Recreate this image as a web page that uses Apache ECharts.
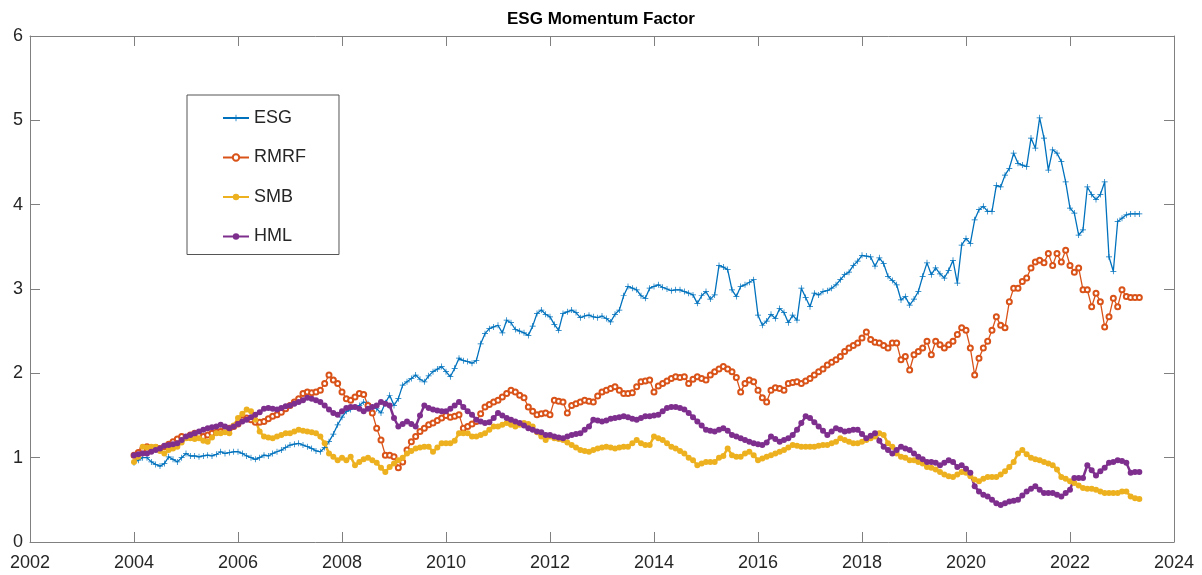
<!DOCTYPE html>
<html lang="en">
<head>
  <meta charset="UTF-8">
  <title>ESG Momentum Factor</title>
  <script src="https://cdn.jsdelivr.net/npm/echarts@6/dist/echarts.min.js"></script>
  <style>html, body { margin: 0; background: #fff; }</style>
</head>
<body>
  <div id="main" style="width: 1202px; height: 575px"></div>
  <script>
    // monthly observations, Jan 2004 .. May 2023
    const startYear = 2004
    const esg = [
      0.94, 0.97, 1.00, 1.00, 0.95, 0.92, 0.90, 0.93, 1.01, 0.98, 0.95, 1.00,
      1.05, 1.02, 1.02, 1.01, 1.02, 1.03, 1.02, 1.04, 1.07, 1.05, 1.06, 1.07,
      1.07, 1.05, 1.02, 1.00, 0.98, 1.00, 1.03, 1.02, 1.05, 1.07, 1.09, 1.12,
      1.15, 1.16, 1.17, 1.15, 1.13, 1.11, 1.08, 1.07, 1.12, 1.19, 1.28, 1.39,
      1.48, 1.55, 1.57, 1.60, 1.62, 1.66, 1.64, 1.60, 1.58, 1.53, 1.65, 1.74,
      1.62, 1.70, 1.86, 1.90, 1.94, 1.98, 1.93, 1.90, 1.97, 2.02, 2.05, 2.08,
      2.02, 1.96, 2.06, 2.18, 2.15, 2.14, 2.12, 2.15, 2.35, 2.47, 2.53, 2.55,
      2.57, 2.48, 2.63, 2.60, 2.52, 2.50, 2.48, 2.45, 2.56, 2.71, 2.75, 2.70,
      2.67, 2.58, 2.51, 2.71, 2.73, 2.75, 2.72, 2.66, 2.68, 2.69, 2.67, 2.66,
      2.68, 2.65, 2.61, 2.70, 2.75, 2.92, 3.03, 3.01, 2.99, 2.92, 2.89, 3.01,
      3.03, 3.05, 3.02, 3.00, 2.98, 2.99, 2.99, 2.97, 2.95, 2.93, 2.83, 2.92,
      2.97, 2.88, 2.93, 3.28, 3.26, 3.23, 2.99, 2.91, 3.03, 3.05, 3.08, 3.11,
      2.69, 2.57, 2.62, 2.70, 2.65, 2.77, 2.72, 2.60, 2.69, 2.63, 3.01, 2.90,
      2.79, 2.95, 2.93, 2.97, 2.98, 3.01, 3.05, 3.11, 3.17, 3.20, 3.28, 3.33,
      3.40, 3.39, 3.38, 3.27, 3.37, 3.30, 3.15, 3.10, 3.05, 2.87, 2.91, 2.81,
      2.88, 2.97, 3.15, 3.31, 3.17, 3.25, 3.18, 3.13, 3.22, 3.34, 3.07, 3.52,
      3.60, 3.54, 3.82, 3.94, 3.98, 3.92, 3.92, 4.23, 4.21, 4.35, 4.43, 4.61,
      4.49, 4.47, 4.45, 4.79, 4.67, 5.03, 4.79, 4.41, 4.65, 4.61, 4.51, 4.27,
      3.96, 3.90, 3.64, 3.70, 4.21, 4.12, 4.06, 4.12, 4.27, 3.38, 3.21, 3.80,
      3.84, 3.88, 3.89, 3.89, 3.89
    ]
    const rmrf = [
      1.03, 1.06, 1.10, 1.13, 1.10, 1.12, 1.11, 1.13, 1.16, 1.19, 1.22, 1.25,
      1.24, 1.27, 1.29, 1.27, 1.25, 1.27, 1.29, 1.30, 1.31, 1.33, 1.35, 1.37,
      1.40, 1.45, 1.47, 1.45, 1.42, 1.42, 1.43, 1.46, 1.49, 1.51, 1.54, 1.58,
      1.62, 1.66, 1.70, 1.76, 1.78, 1.77, 1.78, 1.80, 1.88, 1.98, 1.92, 1.88,
      1.78, 1.70, 1.68, 1.72, 1.76, 1.75, 1.62, 1.53, 1.35, 1.21, 1.03, 1.03,
      1.01, 0.88, 0.95, 1.09, 1.19, 1.25, 1.31, 1.35, 1.39, 1.41, 1.44, 1.47,
      1.50, 1.48, 1.49, 1.51, 1.35, 1.37, 1.40, 1.43, 1.52, 1.60, 1.63, 1.66,
      1.68, 1.72, 1.76, 1.80, 1.78, 1.74, 1.71, 1.60, 1.55, 1.51, 1.52, 1.53,
      1.51, 1.68, 1.67, 1.66, 1.53, 1.62, 1.64, 1.66, 1.68, 1.67, 1.66, 1.73,
      1.78, 1.80, 1.82, 1.84, 1.80, 1.76, 1.76, 1.77, 1.84, 1.90, 1.91, 1.92,
      1.78, 1.85, 1.88, 1.91, 1.94, 1.96, 1.95, 1.96, 1.88, 1.93, 1.96, 1.94,
      1.92, 1.98, 2.02, 2.05, 2.08, 2.05, 2.02, 1.95, 1.78, 1.88, 1.92, 1.90,
      1.80, 1.71, 1.66, 1.80, 1.83, 1.82, 1.80, 1.88, 1.89, 1.90, 1.88, 1.91,
      1.94, 1.98, 2.02, 2.05, 2.10, 2.13, 2.16, 2.20, 2.26, 2.30, 2.33, 2.36,
      2.42, 2.49, 2.40, 2.37, 2.36, 2.33, 2.30, 2.36, 2.36, 2.16, 2.20, 2.04,
      2.22, 2.26, 2.30, 2.38, 2.22, 2.38, 2.34, 2.30, 2.34, 2.38, 2.46, 2.54,
      2.51, 2.30, 1.98, 2.18, 2.30, 2.38, 2.51, 2.67, 2.57, 2.54, 2.85, 3.01,
      3.01, 3.09, 3.13, 3.25, 3.32, 3.34, 3.31, 3.42, 3.28, 3.42, 3.32, 3.46,
      3.28, 3.20, 3.25, 2.99, 2.99, 2.79, 2.95, 2.85, 2.55, 2.67, 2.89, 2.79,
      2.99, 2.91, 2.90, 2.90, 2.90
    ]
    const smb = [
      0.95, 1.01, 1.13, 1.12, 1.13, 1.13, 1.08, 1.05, 1.09, 1.11, 1.13, 1.18,
      1.23, 1.23, 1.22, 1.23, 1.20, 1.19, 1.24, 1.29, 1.29, 1.30, 1.29, 1.38,
      1.47, 1.52, 1.57, 1.55, 1.45, 1.31, 1.25, 1.24, 1.23, 1.25, 1.27, 1.29,
      1.29, 1.31, 1.33, 1.32, 1.31, 1.30, 1.29, 1.25, 1.17, 1.05, 1.01, 0.97,
      1.00, 0.97, 1.01, 0.91, 0.95, 0.98, 1.00, 0.97, 0.94, 0.88, 0.83, 0.89,
      0.93, 0.97, 1.00, 1.05, 1.08, 1.11, 1.12, 1.13, 1.13, 1.07, 1.12, 1.17,
      1.17, 1.17, 1.20, 1.29, 1.29, 1.29, 1.25, 1.25, 1.27, 1.29, 1.33, 1.37,
      1.37, 1.39, 1.41, 1.39, 1.37, 1.39, 1.41, 1.40, 1.37, 1.30, 1.25, 1.21,
      1.25, 1.23, 1.22, 1.21, 1.18, 1.15, 1.12, 1.09, 1.08, 1.07, 1.09, 1.11,
      1.12, 1.13, 1.12, 1.11, 1.12, 1.13, 1.13, 1.17, 1.21, 1.17, 1.15, 1.15,
      1.25, 1.23, 1.21, 1.17, 1.13, 1.11, 1.08, 1.05, 1.00, 0.97, 0.91, 0.93,
      0.95, 0.95, 0.95, 1.00, 1.02, 1.11, 1.03, 1.01, 1.01, 1.05, 1.07, 1.03,
      0.97, 0.99, 1.01, 1.03, 1.05, 1.07, 1.09, 1.12, 1.15, 1.14, 1.13, 1.13,
      1.13, 1.13, 1.14, 1.15, 1.15, 1.17, 1.19, 1.23, 1.21, 1.19, 1.17, 1.17,
      1.19, 1.21, 1.23, 1.25, 1.29, 1.27, 1.17, 1.13, 1.05, 1.01, 1.00, 0.97,
      0.97, 0.95, 0.93, 0.89, 0.88, 0.86, 0.83, 0.80, 0.78, 0.77, 0.80, 0.83,
      0.82, 0.78, 0.74, 0.72, 0.75, 0.77, 0.77, 0.77, 0.80, 0.84, 0.89, 0.95,
      1.05, 1.09, 1.04, 1.00, 0.98, 0.97, 0.95, 0.93, 0.91, 0.86, 0.77, 0.75,
      0.72, 0.70, 0.67, 0.64, 0.63, 0.63, 0.62, 0.60, 0.58, 0.58, 0.58, 0.58,
      0.60, 0.60, 0.54, 0.52, 0.51
    ]
    const hml = [
      1.03, 1.04, 1.05, 1.05, 1.07, 1.09, 1.11, 1.14, 1.15, 1.16, 1.17, 1.21,
      1.25, 1.27, 1.29, 1.31, 1.33, 1.35, 1.36, 1.37, 1.39, 1.37, 1.35, 1.37,
      1.40, 1.43, 1.45, 1.48, 1.51, 1.54, 1.58, 1.59, 1.58, 1.57, 1.59, 1.61,
      1.62, 1.64, 1.66, 1.68, 1.71, 1.70, 1.68, 1.66, 1.62, 1.57, 1.53, 1.51,
      1.55, 1.59, 1.60, 1.60, 1.58, 1.55, 1.58, 1.60, 1.62, 1.66, 1.64, 1.62,
      1.47, 1.37, 1.40, 1.43, 1.40, 1.37, 1.50, 1.62, 1.59, 1.57, 1.56, 1.55,
      1.55, 1.58, 1.62, 1.66, 1.60, 1.55, 1.51, 1.45, 1.43, 1.41, 1.42, 1.47,
      1.53, 1.50, 1.47, 1.45, 1.43, 1.41, 1.38, 1.35, 1.33, 1.31, 1.30, 1.27,
      1.27, 1.25, 1.24, 1.23, 1.25, 1.27, 1.28, 1.29, 1.33, 1.37, 1.45, 1.44,
      1.43, 1.44, 1.46, 1.47, 1.48, 1.49, 1.48, 1.46, 1.45, 1.47, 1.49, 1.49,
      1.50, 1.51, 1.55, 1.59, 1.60, 1.60, 1.59, 1.57, 1.53, 1.48, 1.43, 1.38,
      1.33, 1.32, 1.31, 1.33, 1.35, 1.32, 1.27, 1.25, 1.23, 1.21, 1.19, 1.17,
      1.16, 1.15, 1.18, 1.25, 1.22, 1.19, 1.21, 1.23, 1.27, 1.33, 1.41, 1.49,
      1.47, 1.42, 1.37, 1.32, 1.27, 1.31, 1.35, 1.33, 1.31, 1.32, 1.33, 1.33,
      1.28, 1.23, 1.26, 1.29, 1.20, 1.13, 1.09, 1.05, 1.09, 1.13, 1.11, 1.09,
      1.05, 1.01, 0.98, 0.95, 0.95, 0.94, 0.91, 0.94, 0.97, 0.95, 0.89, 0.91,
      0.87, 0.82, 0.66, 0.60, 0.56, 0.54, 0.50, 0.46, 0.44, 0.46, 0.48, 0.49,
      0.50, 0.55, 0.60, 0.63, 0.66, 0.62, 0.58, 0.58, 0.58, 0.56, 0.54, 0.58,
      0.62, 0.76, 0.76, 0.76, 0.91, 0.85, 0.79, 0.84, 0.88, 0.94, 0.95, 0.97,
      0.96, 0.94, 0.82, 0.83, 0.83
    ]
    const seriesNames = ['ESG', 'RMRF', 'SMB', 'HML']
    const xTicks = { min: 2002, max: 2024, step: 2 }
    const yTicks = { min: 0, max: 6, step: 1 }

    const months = esg.map((_, i) => startYear + i / 12)
    const toPairs = arr => arr.map((v, i) => [months[i], v])

    const axisGray = '#808080'
    const textGray = '#262626'
    const font = 'Liberation Sans, Arial, sans-serif'
    const plusIcon = 'path://M4.4,0H5.6V4.4H10V5.6H5.6V10H4.4V5.6H0V4.4H4.4Z'

    const frameAxis = (extra) => Object.assign({
      type: 'value',
      axisLine: { show: true, onZero: false, lineStyle: { color: axisGray, width: 1 } },
      axisTick: { show: true, inside: true, length: 10, lineStyle: { color: axisGray } },
      splitLine: { show: false },
      axisLabel: { color: textGray, fontSize: 18, fontFamily: font }
    }, extra)

    const myChart = echarts.init(document.getElementById('main'))
    const option = {
      animation: false,
      backgroundColor: '#fff',
      title: {
        text: 'ESG Momentum Factor',
        left: 'center',
        top: 6,
        textStyle: { fontSize: 17, fontWeight: 'bold', color: '#000', fontFamily: font }
      },
      legend: {
        orient: 'vertical',
        left: 187,
        top: 95,
        padding: [13, 33, 8, 35],
        itemGap: 19.5,
        itemWidth: 26,
        itemHeight: 8,
        borderColor: '#555',
        borderWidth: 1,
        backgroundColor: '#fff',
        textStyle: { fontSize: 18, color: textGray, fontFamily: font, lineHeight: 20 },
        data: seriesNames
      },
      grid: { left: 30, right: 28, top: 36, bottom: 33, containLabel: false },
      xAxis: [
        frameAxis({ position: 'bottom', min: xTicks.min, max: xTicks.max, interval: xTicks.step,
          axisLabel: { color: textGray, fontSize: 18, fontFamily: font, margin: 12,
            formatter: v => String(v) } }),
        frameAxis({ position: 'top', min: xTicks.min, max: xTicks.max, interval: xTicks.step,
          axisLabel: { show: false } })
      ],
      yAxis: [
        frameAxis({ position: 'left', min: yTicks.min, max: yTicks.max, interval: yTicks.step,
          axisLabel: { color: textGray, fontSize: 18, fontFamily: font, margin: 7 } }),
        frameAxis({ position: 'right', min: yTicks.min, max: yTicks.max, interval: yTicks.step,
          axisLabel: { show: false } })
      ],
      series: [
        {
          name: 'ESG', type: 'line', data: toPairs(esg),
          symbol: plusIcon, symbolSize: 6,
          lineStyle: { color: '#0072BD', width: 1.3 },
          itemStyle: { color: '#0072BD' }
        },
        {
          name: 'RMRF', type: 'line', data: toPairs(rmrf),
          symbol: 'emptyCircle', symbolSize: 5,
          lineStyle: { color: '#D95319', width: 1.3 },
          itemStyle: { color: '#D95319', borderWidth: 1 }
        },
        {
          name: 'SMB', type: 'line', data: toPairs(smb),
          symbol: 'circle', symbolSize: 6,
          lineStyle: { color: '#EDB120', width: 2.5 },
          itemStyle: { color: '#EDB120' }
        },
        {
          name: 'HML', type: 'line', data: toPairs(hml),
          symbol: 'circle', symbolSize: 6,
          lineStyle: { color: '#7E2F8E', width: 2.5 },
          itemStyle: { color: '#7E2F8E' }
        }
      ]
    }
    myChart.setOption(option)
  </script>
</body>
</html>
